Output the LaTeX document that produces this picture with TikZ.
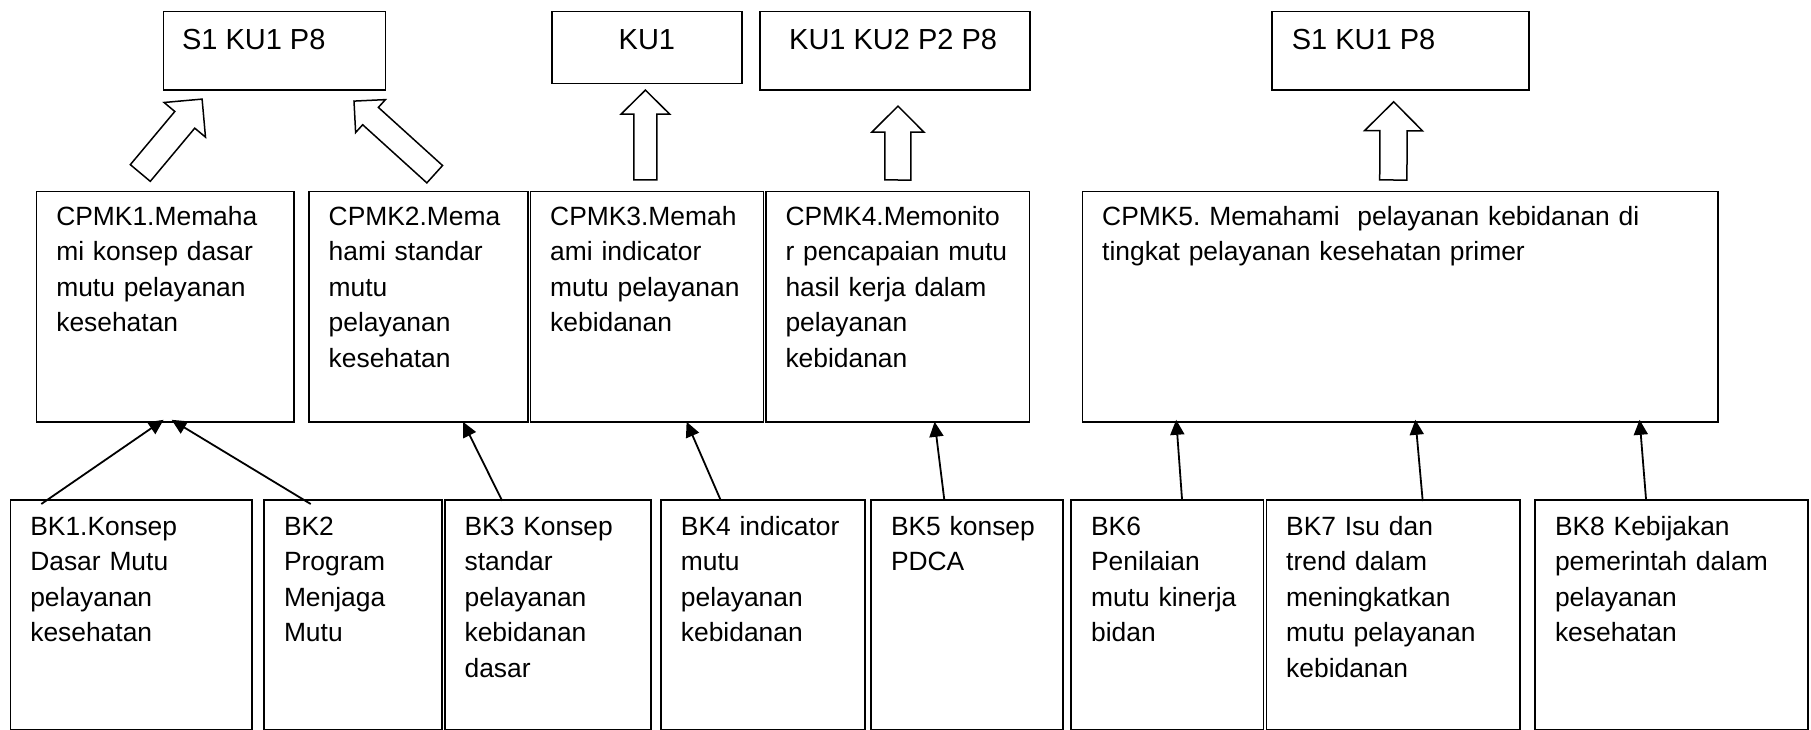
\documentclass[tikz,border=0pt]{standalone}
\usepackage{fontspec}
\setmainfont{Liberation Sans}
\usetikzlibrary{calc,arrows.meta}
\frenchspacing
\tikzset{
  box/.style={draw, line width=1.8pt, inner sep=0pt, anchor=north west},
  txt/.style={anchor=base west, inner sep=0pt, text width=640pt, align=left,
              font=\fontsize{26.4}{35.6}\selectfont},
  toptxt/.style={anchor=base west, inner sep=0pt, font=\fontsize{29}{35}\selectfont},
  conn/.style={line width=1.8pt, -{Triangle[length=15pt,width=14pt]}},
  blockarr/.style={draw, line width=1.5pt, fill=white, line join=miter},
}
\newcommand\blockarrow[5]{%
  \coordinate (bat) at (#2);
  \coordinate (bah) at ($(#2)!#5!(#1)$);
  \draw[blockarr] ($(#1)!#3!90:(#2)$) -- ($(bah)!#3!90:(bat)$) -- ($(bah)!#4!90:(bat)$)
    -- (bat) -- ($(bah)!#4!-90:(bat)$) -- ($(bah)!#3!-90:(bat)$) -- ($(#1)!#3!-90:(#2)$) -- cycle;
}
\begin{document}
\begin{tikzpicture}[x=1pt,y=-1pt]
\useasboundingbox (0,0) rectangle (1811,730);
% top row
\node[box, minimum width=222pt, minimum height=78.3pt] (t1) at (162.6,10.7) {};
\node[box, minimum width=190.2pt, minimum height=72pt] (t2) at (550.9,10.7) {};
\node[box, minimum width=270.6pt, minimum height=78.3pt] (t3) at (758.7,10.7) {};
\node[box, minimum width=257.2pt, minimum height=78.3pt] (t4) at (1270.9,10.7) {};
\node[toptxt] (t1t) at ($(t1.north west)+(19.2,39.3)$) {S1 KU1 P8};
\node[toptxt, anchor=base] (t2t) at ($(t2.north)+(0,39.3)$) {KU1};
\node[toptxt] (t3t) at ($(t3.north west)+(30.3,39.3)$) {KU1 KU2 P2 P8};
\node[toptxt] (t4t) at ($(t4.north west)+(20.7,39.3)$) {S1 KU1 P8};
% middle row
\node[box, minimum width=257.2pt, minimum height=230.3pt] (c1) at (35.6,190.7) {};
\node[box, minimum width=219.4pt, minimum height=230.3pt] (c2) at (308,190.7) {};
\node[box, minimum width=233pt, minimum height=230.3pt] (c3) at (529.5,190.7) {};
\node[box, minimum width=263.7pt, minimum height=230.3pt] (c4) at (764.8,190.7) {};
\node[box, minimum width=635.8pt, minimum height=230.3pt] (c5) at (1081.5,190.7) {};
\node[txt] (c1t) at ($(c1.north west)+(20.5,34.3)$) {CPMK1.Memaha\\mi konsep dasar\\mutu pelayanan\\kesehatan};
\node[txt] (c2t) at ($(c2.north west)+(20.5,34.3)$) {CPMK2.Mema\\hami standar\\mutu\\pelayanan\\kesehatan};
\node[txt] (c3t) at ($(c3.north west)+(20.5,34.3)$) {CPMK3.Memah\\ami indicator\\mutu pelayanan\\kebidanan};
\node[txt] (c4t) at ($(c4.north west)+(20.5,34.3)$) {CPMK4.Memonito\\r pencapaian mutu\\hasil kerja dalam\\pelayanan\\kebidanan};
\node[txt] (c5t) at ($(c5.north west)+(20.5,34.3)$) {CPMK5. Memahami\ \ pelayanan kebidanan di\\tingkat pelayanan kesehatan primer};
% bottom row
\node[box, minimum width=241.8pt, minimum height=230pt] (b1) at (9.6,499) {};
\node[box, minimum width=178pt, minimum height=230pt] (b2) at (263.3,499) {};
\node[box, minimum width=206.4pt, minimum height=230pt] (b3) at (443.9,499) {};
\node[box, minimum width=203.6pt, minimum height=230pt] (b4) at (660.2,499) {};
\node[box, minimum width=191.4pt, minimum height=230pt] (b5) at (870.3,499) {};
\node[box, minimum width=192.2pt, minimum height=230pt] (b6) at (1070.4,499) {};
\node[box, minimum width=253.3pt, minimum height=230pt] (b7) at (1265.5,499) {};
\node[box, minimum width=272.8pt, minimum height=230pt] (b8) at (1534.3,499) {};
\node[txt] (b1t) at ($(b1.north west)+(20.5,36)$) {BK1.Konsep\\Dasar Mutu\\pelayanan\\kesehatan};
\node[txt] (b2t) at ($(b2.north west)+(20.5,36)$) {BK2\\Program\\Menjaga\\Mutu};
\node[txt] (b3t) at ($(b3.north west)+(20.5,36)$) {BK3 Konsep\\standar\\pelayanan\\kebidanan\\dasar};
\node[txt] (b4t) at ($(b4.north west)+(20.5,36)$) {BK4 indicator\\mutu\\pelayanan\\kebidanan};
\node[txt] (b5t) at ($(b5.north west)+(20.5,36)$) {BK5 konsep\\PDCA};
\node[txt] (b6t) at ($(b6.north west)+(20.5,36)$) {BK6\\Penilaian\\mutu kinerja\\bidan};
\node[txt] (b7t) at ($(b7.north west)+(20.5,36)$) {BK7 Isu dan\\trend dalam\\meningkatkan\\mutu pelayanan\\kebidanan};
\node[txt] (b8t) at ($(b8.north west)+(20.5,36)$) {BK8 Kebijakan\\pemerintah dalam\\pelayanan\\kesehatan};
% block arrows CPMK -> top boxes
\coordinate (a1s) at ($(c1.north west)+(104.7,-17.7)$);
\coordinate (a1e) at ($(t1.south west)+(39.5,8.3)$);
\coordinate (a2s) at ($(c2.north west)+(126.7,-16.5)$);
\coordinate (a2e) at ($(t1.south west)+(191.4,10.3)$);
\coordinate (a3s) at ($(c3.north west)+(115.9,-10.7)$);
\coordinate (a3e) at ($(t2.south west)+(94.5,5.6)$);
\coordinate (a4s) at ($(c4.north west)+(133,-10.7)$);
\coordinate (a4e) at ($(t3.south west)+(139.3,15.3)$);
\coordinate (a5s) at ($(c5.north west)+(311.8,-10.7)$);
\coordinate (a5e) at ($(t4.south west)+(122.8,11)$);
\blockarrow{a1s}{a1e}{13pt}{27pt}{27pt}
\blockarrow{a2s}{a2e}{11.7pt}{22.2pt}{22.3pt}
\blockarrow{a3s}{a3e}{11.5pt}{24.3pt}{24pt}
\blockarrow{a4s}{a4e}{13pt}{26pt}{26pt}
\blockarrow{a5s}{a5e}{13.6pt}{29pt}{29pt}
% thin connectors BK -> CPMK
\draw[conn] ($(b1.north west)+(31.7,5)$) -- ($(c1.south west)+(128,-3)$);
\draw[conn] ($(b2.north west)+(47.4,5)$) -- ($(c1.south west)+(136,-3)$);
\draw[conn] ($(b3.north west)+(58.2,1.7)$) -- ($(c2.south west)+(155,-1)$);
\draw[conn] ($(b4.north west)+(60.1,0.3)$) -- ($(c3.south west)+(157.1,-1)$);
\draw[conn] ($(b5.north west)+(73.9,0)$) -- ($(c4.south west)+(169.8,-1)$);
\draw[conn] ($(b6.north west)+(111.6,0)$) -- ($(c5.south west)+(94.7,-3)$);
\draw[conn] ($(b7.north west)+(157.2,2)$) -- ($(c5.south west)+(333.9,-3)$);
\draw[conn] ($(b8.north west)+(111.7,0)$) -- ($(c5.south west)+(558.1,-3)$);
\end{tikzpicture}
\end{document}
